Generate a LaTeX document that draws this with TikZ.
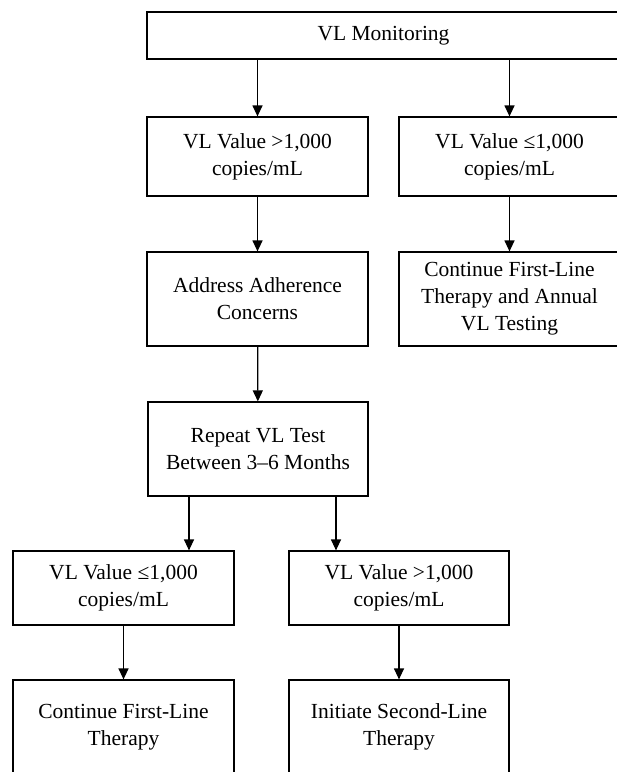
\documentclass[tikz,border=0pt]{standalone}
\usepackage{fontspec}
\setmainfont{Liberation Serif}
\usepackage{tikz}
\usetikzlibrary{arrows.meta,positioning,calc}

\begin{document}
\begin{tikzpicture}[x=1pt,y=1pt,
box/.style={draw,line width=1.2pt,align=center,inner sep=0pt,
  minimum width=221pt,minimum height=94pt,
  font=\fontsize{21.5}{27}\selectfont},
arr/.style={line width=1.2pt,-{Triangle[length=11pt,width=10pt]}}]
\clip (0,0) rectangle (617,-772);
\node (mon) at (383.5,-35.5) [box,minimum width=473pt,minimum height=47pt] {VL Monitoring};
\node (high1) at (257.5,-156.5) [box,minimum height=79pt] {VL Value >1,000\\copies/mL};
\node (low1) at (509.5,-156.5) [box,minimum height=79pt] {VL Value ≤1,000\\copies/mL};
\node (adhere) at (257.5,-299) [box] {Address Adherence\\Concerns};
\node (cont1) at (509.5,-299) [box] {Continue First-Line\\Therapy and Annual\\VL Testing};
\node (rep) at (258,-449) [box,minimum width=220pt] {Repeat VL Test\\Between 3–6 Months};
\node (low2) at (123.5,-588) [box,minimum height=74pt] {VL Value ≤1,000\\copies/mL};
\node (high2) at (399,-588) [box,minimum width=220pt,minimum height=74pt] {VL Value >1,000\\copies/mL};
\node (cont2) at (123.5,-727) [box] {Continue First-Line\\Therapy};
\node (second) at (399,-727) [box,minimum width=220pt] {Initiate Second-Line\\Therapy};
\coordinate (split1) at (189,0);
\coordinate (split2) at (336,0);

\draw[arr] (mon.south -| high1) -- (high1);
\draw[arr] (mon.south -| low1) -- (low1);
\draw[arr] (high1) -- (adhere);
\draw[arr] (low1) -- (cont1);
\draw[arr] (adhere) -- (rep);
\draw[arr] (split1 |- rep.south) -- (split1 |- low2.north);
\draw[arr] (split2 |- rep.south) -- (split2 |- high2.north);
\draw[arr] (low2) -- (cont2);
\draw[arr] (high2) -- (second);
\end{tikzpicture}
\end{document}
